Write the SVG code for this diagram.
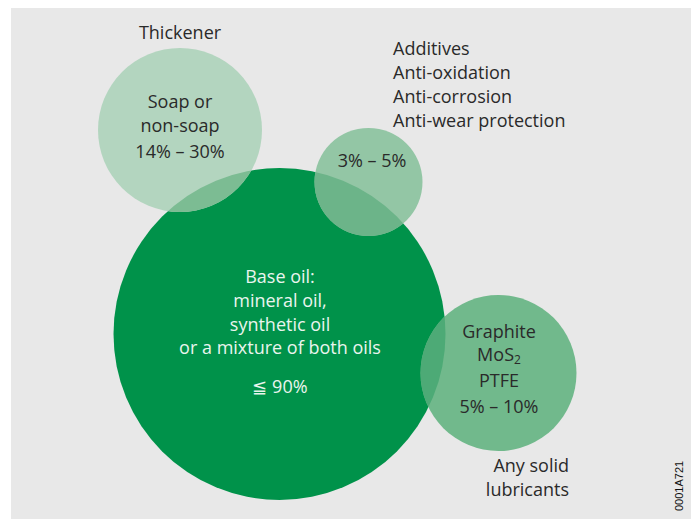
<svg xmlns="http://www.w3.org/2000/svg" width="691" height="519" viewBox="0 0 691 519">
<style>
text{font-family:"Open Sans","Noto Sans","Liberation Sans",sans-serif;font-size:18px;fill:#2a2a2a}
.c{text-anchor:middle}
.w{fill:#eaf5ee}
.id{font-family:"Liberation Sans",sans-serif;font-size:11px;fill:#111}
</style>
<defs>
<clipPath id="baseClip"><circle cx="279.5" cy="334" r="166"/></clipPath>
</defs>
<rect x="11" y="8" width="680" height="511" fill="#e8e8e8"/>
<g id="base-oil">
<circle cx="279.5" cy="334" r="166" fill="#00924a"/>
</g>
<g id="thickener">
<circle cx="180" cy="130" r="82" fill="#b3d5bf"/>
<circle cx="180" cy="130" r="82" fill="#7cbc93" clip-path="url(#baseClip)"/>
<text class="c" x="180" y="39">Thickener</text>
<text class="c" x="180" y="108">Soap or</text>
<text class="c" x="180" y="132">non-soap</text>
<text class="c" x="180" y="158">14% – 30%</text>
</g>
<g id="additives">
<circle cx="368.5" cy="182" r="54" fill="#93c6a5"/>
<circle cx="368.5" cy="182" r="54" fill="#6cb489" clip-path="url(#baseClip)"/>
<text x="393" y="55">Additives</text>
<text x="393" y="79">Anti-oxidation</text>
<text x="393" y="103">Anti-corrosion</text>
<text x="393" y="127">Anti-wear protection</text>
<text class="c" x="372" y="167">3% – 5%</text>
</g>
<g id="solid-lubricants">
<circle cx="498.5" cy="373" r="78" fill="#71b98c"/>
<circle cx="498.5" cy="373" r="78" fill="#4daa76" clip-path="url(#baseClip)"/>
<text class="c" x="499" y="338">Graphite</text>
<text class="c" x="499" y="361">MoS<tspan font-size="12" dy="3">2</tspan></text>
<text class="c" x="499" y="387">PTFE</text>
<text class="c" x="499" y="413">5% – 10%</text>
<text x="569" y="472" text-anchor="end">Any solid</text>
<text x="569" y="496" text-anchor="end">lubricants</text>
</g>
<g id="base-oil-text">
<text class="c w" x="280" y="283">Base oil:</text>
<text class="c w" x="280" y="307">mineral oil,</text>
<text class="c w" x="280" y="331">synthetic oil</text>
<text class="c w" x="280" y="354">or a mixture of both oils</text>
<text class="c w" x="280" y="393">≦ 90%</text>
</g>
<g id="connectors"/>
<text class="id" transform="translate(683,511) rotate(-90)">0001A721</text>
</svg>
